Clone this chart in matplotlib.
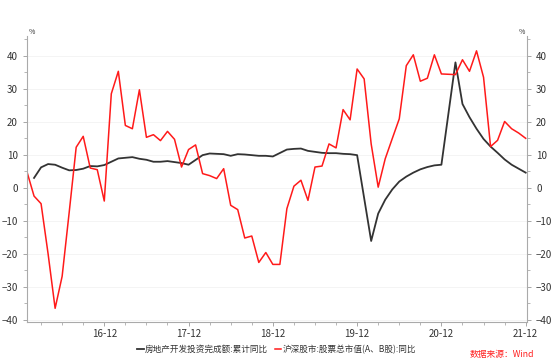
import numpy as np
import pandas as pd
import matplotlib.pyplot as plt
from matplotlib.ticker import MultipleLocator, FixedLocator

plt.rcParams['font.family'] = ['Noto Sans CJK SC', 'DejaVu Sans']

# 沪深股市:股票总市值(A、B股):同比, monthly 2016-01 .. 2021-12
stock_months = pd.date_range('2016-01-01', '2021-12-01', freq='MS')
stock_yoy = [
    4.8, -2.5, -4.8, -20.0, -36.5, -26.8, -7.5, 12.3, 15.6, 6.0, 5.5, -4.0,
    28.5, 35.3, 18.9, 17.9, 29.7, 15.3, 16.1, 14.3, 17.1, 14.7, 6.3, 11.6,
    13.0, 4.3, 3.7, 2.8, 5.8, -5.3, -6.6, -15.2, -14.6, -22.6, -19.6, -23.2,
    -23.2, -6.3, 0.5, 2.3, -3.8, 6.3, 6.6, 13.3, 12.1, 23.7, 20.6, 36.0,
    33.0, 13.3, 0.2, 8.8, 14.9, 20.9, 37.0, 40.3, 32.3, 33.2, 40.3, 34.5,
    34.4, 34.3, 38.8, 35.3, 41.5, 33.5, 12.5, 14.4, 20.1, 17.9, 16.6, 15.0,
]

# 房地产开发投资完成额:累计同比, no January figures
invest_months = [d for d in stock_months if d.month != 1]
invest_yoy = [
    3.0, 6.2, 7.2, 7.0, 6.1, 5.3, 5.4, 5.8, 6.6, 6.5, 6.9,
    8.9, 9.1, 9.3, 8.8, 8.5, 7.9, 7.9, 8.1, 7.8, 7.5, 7.0,
    9.9, 10.4, 10.3, 10.2, 9.7, 10.2, 10.1, 9.9, 9.7, 9.7, 9.5,
    11.6, 11.8, 11.9, 11.2, 10.9, 10.6, 10.5, 10.5, 10.3, 10.2, 9.9,
    -16.1, -7.8, -3.6, -0.5, 1.9, 3.4, 4.6, 5.6, 6.3, 6.8, 7.0,
    38.0, 25.4, 21.4, 17.9, 14.8, 12.5, 10.6, 8.6, 7.0, 5.8, 4.6,
]

tick_labels = ['16-12', '17-12', '18-12', '19-12', '20-12', '21-12']


def month_index(dates):
    return [(d.year - 2016) * 12 + d.month - 1 for d in dates]


x_stock = month_index(stock_months)
x_invest = month_index(invest_months)

fig = plt.figure(figsize=(5.56, 3.62), dpi=100)
ax = fig.add_axes([0.0486, 0.110, 0.8994, 0.7906])
ax2 = ax.twinx()

l1, = ax.plot(x_invest, invest_yoy, color='#333333', lw=1.3,
              label='房地产开发投资完成额:累计同比')
l2, = ax.plot(x_stock, stock_yoy, color='#ff1a1a', lw=1.1,
              label='沪深股市:股票总市值(A、B股):同比')

for a in (ax, ax2):
    a.set_ylim(-40.7, 46)
    a.yaxis.set_major_locator(FixedLocator([-40, -30, -20, -10, 0, 10, 20, 30, 40]))
    a.yaxis.set_minor_locator(MultipleLocator(5))
    a.tick_params(axis='y', labelsize=7, colors='#333333', length=3, width=0.6)
    a.tick_params(axis='y', which='minor', length=2, width=0.5, color='#999999')
    a.tick_params(axis='y', color='#999999')
    for s in a.spines.values():
        s.set_visible(False)

ax.spines['left'].set_visible(True)
ax.spines['left'].set_color('#aaaaaa')
ax.spines['bottom'].set_visible(True)
ax.spines['bottom'].set_color('#aaaaaa')
ax2.spines['right'].set_visible(True)
ax2.spines['right'].set_color('#aaaaaa')

ax.set_xlim(0, 71.2)
major = [11 + 12 * i for i in range(len(tick_labels))]
ax.xaxis.set_major_locator(FixedLocator(major))
ax.set_xticklabels(tick_labels)
ax.xaxis.set_minor_locator(FixedLocator([m for m in range(2, 72, 3) if m not in major]))
ax.tick_params(axis='x', labelsize=7, colors='#333333', length=3, width=0.6, pad=2)
ax.tick_params(axis='x', which='minor', length=2, width=0.5, color='#999999')
ax.tick_params(axis='x', color='#999999')

ax.yaxis.grid(True, color='#f2f2f2', lw=0.6)
ax.set_axisbelow(True)

fig.text(0.052, 0.9, '%', fontsize=5, color='#333333', va='bottom')
fig.text(0.944, 0.9, '%', fontsize=5, color='#333333', va='bottom', ha='right')

fig.legend(handles=[l1, l2], loc='center', bbox_to_anchor=(0.497, 0.035), ncol=2,
           frameon=False, fontsize=6.2, handlelength=0.8, handletextpad=0.1,
           columnspacing=0.8, labelcolor='#333333')

fig.text(0.96, 0.022, '数据来源：Wind', fontsize=6.3, color='#ff2020',
         style='italic', ha='right', va='center')

fig.savefig('out.png', dpi=100)
